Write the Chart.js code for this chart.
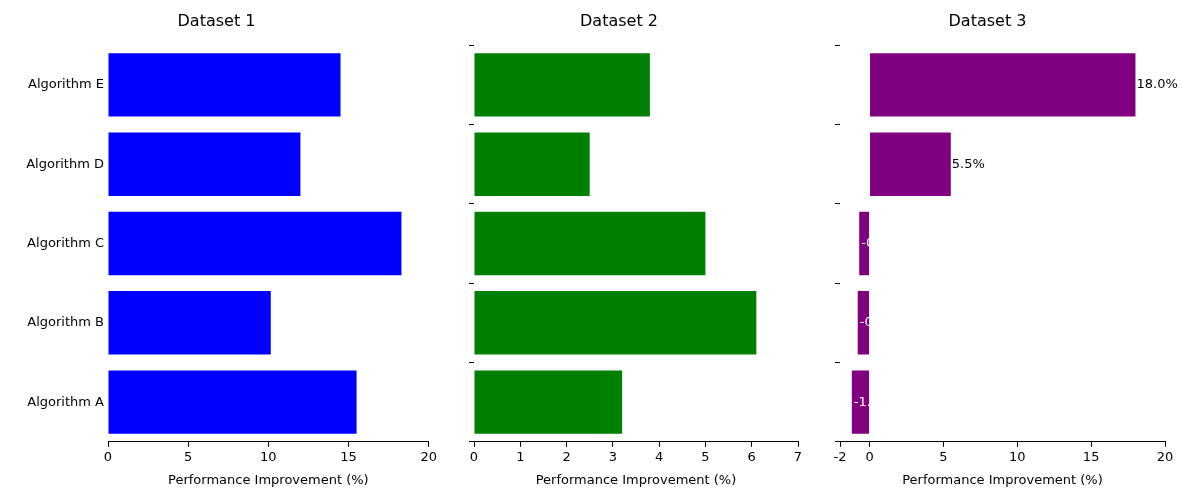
<!DOCTYPE html>
<html><head><script src="https://cdn.jsdelivr.net/npm/chart.js@4"></script>
<style>body{margin:0;width:1200px;height:500px;position:relative;background:#fff;font-family:"DejaVu Sans"}
.c{position:absolute;top:0;height:500px}</style></head><body>
<div class="c" style="left:0;width:440px"><canvas id="c1"></canvas></div>
<div class="c" style="left:440px;width:370px"><canvas id="c2"></canvas></div>
<div class="c" style="left:810px;width:390px"><canvas id="c3"></canvas></div>
<script>
const categories=["Algorithm E","Algorithm D","Algorithm C","Algorithm B","Algorithm A"];
const dataset1=[14.5,12.0,18.3,10.15,15.5];
const dataset2=[3.8,2.5,5.0,6.1,3.2];
const dataset3=[18.0,5.5,-0.7,-0.8,-1.2];
const labels3=["18.0%","5.5%","-0.7%","-0.8%","-1.2%"];
Chart.defaults.font.family="DejaVu Sans";Chart.defaults.color="#000";Chart.defaults.font.size=13;
const labelPlugin={id:'lbl',afterDatasetsDraw(ch){const ctx=ch.ctx;const m=ch.getDatasetMeta(0);
 ctx.save();ctx.font='13px DejaVu Sans';ctx.textBaseline='middle';ctx.textAlign='left';
 m.data.forEach((b,i)=>{const v=dataset3[i];const t=labels3[i];
  if(v>=0){ctx.fillStyle='#000';ctx.fillText(t,b.x+1,b.y);}
  else{ctx.save();ctx.beginPath();ctx.rect(b.x,b.y-b.height/2,b.base-b.x,b.height);ctx.clip();ctx.fillStyle='#fff';ctx.fillText(t,b.x+2,b.y);ctx.restore();}
 });ctx.restore();}};
function make(id,title,data,color,min,max,step,yw,pr,showY,plugins){
 new Chart(document.getElementById(id),{type:'bar',data:{labels:categories,datasets:[{data,backgroundColor:color,barPercentage:0.8,categoryPercentage:1}]},
 plugins:plugins||[],
 options:{indexAxis:'y',responsive:false,animation:false,devicePixelRatio:1,
 layout:{padding:{right:pr,bottom:8}},
 plugins:{legend:{display:false},tooltip:{enabled:false},title:{display:true,text:title,font:{size:16,weight:'normal'},padding:{top:12,bottom:14}}},
 scales:{x:{min,max,ticks:{stepSize:step,padding:3},grid:{drawOnChartArea:false,tickLength:5,color:'#000'},border:{display:true,color:'#000'},
   title:{display:true,text:'Performance Improvement (%)',padding:{top:4}}},
  y:{afterFit(s){s.width=yw;},ticks:{display:showY,padding:4},grid:{drawOnChartArea:false,tickLength:showY?0:5,color:'#000'},border:{display:false}}}}});
}
for(const [id,w] of [["c1",440],["c2",370],["c3",390]]){const c=document.getElementById(id);c.width=w;c.height=500;c.style.width=w+'px';c.style.height='500px';}
make('c1','Dataset 1',dataset1,'#0000ff',0,20,5,108,7,true);
make('c2','Dataset 2',dataset2,'#008000',0,7,1,34,12,false);
make('c3','Dataset 3',dataset3,'#800080',-2,20,5,30,35,false,[labelPlugin]);
</script></body></html>
